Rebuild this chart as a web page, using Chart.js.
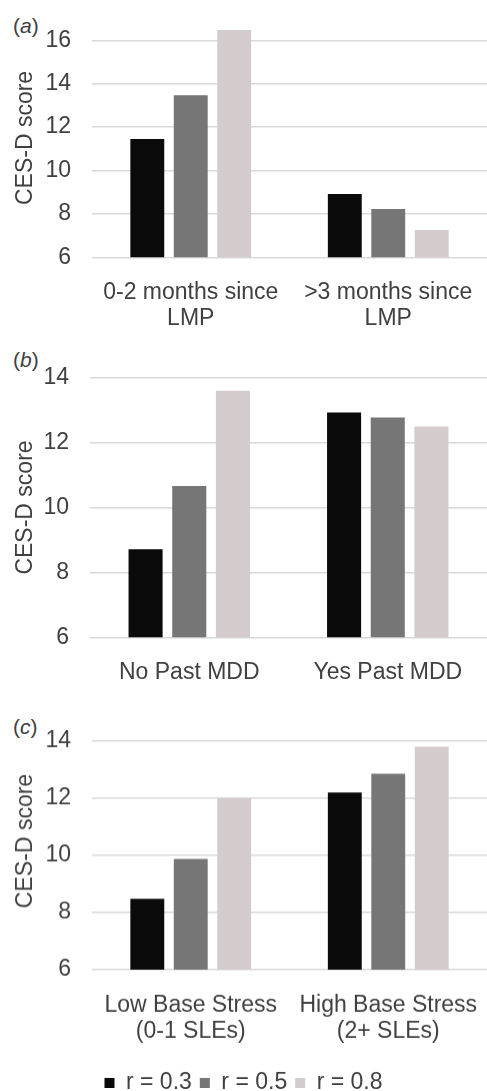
<!DOCTYPE html>
<html>
<head>
<meta charset="utf-8">
<script src="https://cdn.jsdelivr.net/npm/chart.js@4"></script>
<style>
  html, body { margin: 0; padding: 0; background: #fff; overflow: hidden; }
  body { width: 487px; height: 1091px; position: relative; font-family: "Liberation Sans", Arial, sans-serif; }
  .panel { position: absolute; left: 0; width: 487px; }
  .tag { position: absolute; left: 13px; font-size: 21px; line-height: 23px; color: #404040; }
</style>
</head>
<body>

<div class="tag" style="top:14px">(<i>a</i>)</div>
<div class="tag" style="top:348px">(<i>b</i>)</div>
<div class="tag" style="top:715px">(<i>c</i>)</div>

<div class="panel" style="top:0px;height:330px"><canvas id="chartA"></canvas></div>
<div class="panel" style="top:330px;height:360px"><canvas id="chartB"></canvas></div>
<div class="panel" style="top:690px;height:413.5px"><canvas id="chartC"></canvas></div>

<script>
const seriesLabels = ['r = 0.3', 'r = 0.5', 'r = 0.8'];
const seriesColors = ['#0a0a0a', '#767676', '#d4cccc'];

// (a) time since LMP
const lmpCategories = [['0-2 months since', 'LMP'], ['>3 months since', 'LMP']];
const lmpR03 = [11.45, 8.92];
const lmpR05 = [13.47, 8.23];
const lmpR08 = [16.47, 7.26];
const lmpTicks = [6, 8, 10, 12, 14, 16];

// (b) past MDD
const mddCategories = ['No Past MDD', 'Yes Past MDD'];
const mddR03 = [8.71, 12.93];
const mddR05 = [10.66, 12.77];
const mddR08 = [13.6, 12.5];
const mddTicks = [6, 8, 10, 12, 14];

// (c) baseline stress
const stressCategories = [['Low Base Stress', '(0-1 SLEs)'], ['High Base Stress', '(2+ SLEs)']];
const stressR03 = [8.48, 12.2];
const stressR05 = [9.88, 12.86];
const stressR08 = [12.0, 13.8];
const stressTicks = [6, 8, 10, 12, 14];

const textColor = '#404040';
const fontFamily = '"Liberation Sans", Arial, sans-serif';

Chart.defaults.font.family = fontFamily;
Chart.defaults.color = textColor;
Chart.defaults.animation = false;

function makeChart(id, labels, values, ticks, opts) {
  const datasets = values.map((v, i) => ({
    label: seriesLabels[i],
    data: v,
    backgroundColor: seriesColors[i],
    borderWidth: 0,
    categoryPercentage: 0.66,
    barPercentage: 0.78
  }));

  const config = {
    type: 'bar',
    data: { labels, datasets },
    options: {
      responsive: true,
      maintainAspectRatio: false,
      layout: { padding: { top: opts.top, right: 0, bottom: 0, left: 0 } },
      plugins: {
        legend: opts.legend ? {
          display: true,
          position: 'bottom',
          labels: {
            boxWidth: 10,
            boxHeight: 10,
            padding: 8,
            color: textColor,
            font: { size: 23, lineHeight: 1.15 }
          }
        } : { display: false },
        tooltip: { enabled: false }
      },
      scales: {
        x: {
          grid: { display: false },
          border: { display: false },
          ticks: { padding: 14, font: { size: 23, lineHeight: 1.15 }, color: textColor, maxRotation: 0, autoSkip: false },
          // fixed axis height, no extra side padding
          afterFit: s => { s.height = opts.xHeight; s.paddingLeft = 0; s.paddingRight = 0; }
        },
        y: {
          min: ticks[0],
          max: opts.max,
          grid: { color: '#d9d9d9', lineWidth: 1.5, drawTicks: false },
          border: { display: false },
          ticks: { padding: 21, font: { size: 23 }, color: textColor },
          afterBuildTicks: s => { s.ticks = ticks.map(v => ({ value: v })); },
          title: {
            display: true,
            text: 'CES-D score',
            color: textColor,
            font: { size: 23, lineHeight: 1.2 },
            padding: { top: 12, bottom: 0 }
          },
          afterFit: s => { s.width = opts.left; s.paddingTop = 0; s.paddingBottom = 0; }
        }
      }
    }
  };

  return new Chart(document.getElementById(id), config);
}

makeChart('chartA', lmpCategories, [lmpR03, lmpR05, lmpR08], lmpTicks,
  { max: 17, top: 18.6, left: 92, xHeight: 72.7 });
makeChart('chartB', mddCategories, [mddR03, mddR05, mddR08], mddTicks,
  { max: 14, top: 47.7, left: 90, xHeight: 52.7 });
makeChart('chartC', stressCategories, [stressR03, stressR05, stressR08], stressTicks,
  { max: 15, top: 22.4, left: 92, xHeight: 93.5, legend: true });
</script>
</body>
</html>
